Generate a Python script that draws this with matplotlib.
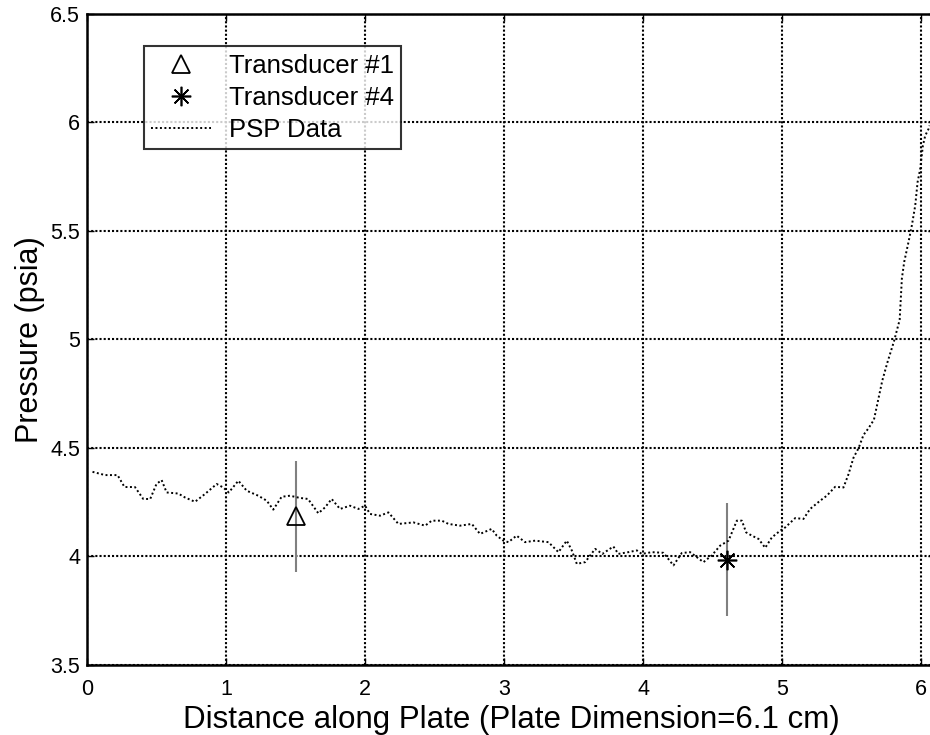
import matplotlib
matplotlib.use("Agg")
import matplotlib.pyplot as plt

plt.rcParams['font.family'] = ['Liberation Sans', 'DejaVu Sans']

# PSP data
psp_x = [0.04, 0.13, 0.22, 0.27, 0.345, 0.405, 0.455, 0.50, 0.537, 0.573,
         0.657, 0.705, 0.777, 0.849, 0.933, 0.98, 1.02, 1.089, 1.149, 1.232,
         1.293, 1.34, 1.40, 1.46, 1.53, 1.59, 1.664, 1.712, 1.76, 1.82,
         1.892, 1.952, 2.0, 2.036, 2.108, 2.168, 2.24, 2.348, 2.432, 2.48,
         2.552, 2.60, 2.683, 2.768, 2.827, 2.911, 2.947, 2.995, 3.031, 3.09,
         3.151, 3.223, 3.319, 3.391, 3.451, 3.487, 3.523, 3.583, 3.655, 3.707,
         3.786, 3.822, 3.894, 3.955, 3.99, 4.063, 4.146, 4.218, 4.278, 4.338,
         4.386, 4.434, 4.494, 4.554, 4.614, 4.674, 4.71, 4.741, 4.782, 4.83,
         4.878, 4.926, 4.986, 5.022, 5.094, 5.153, 5.201, 5.273, 5.321, 5.381,
         5.441, 5.477, 5.513, 5.55, 5.585, 5.62, 5.66, 5.69, 5.72, 5.755,
         5.804, 5.845, 5.861, 5.878, 5.909, 5.933, 5.957, 5.974, 5.993, 6.012,
         6.029, 6.053, 6.06]
psp_y = [4.39, 4.375, 4.375, 4.32, 4.32, 4.265, 4.265, 4.334, 4.352, 4.295,
         4.29, 4.272, 4.252, 4.288, 4.334, 4.318, 4.295, 4.349, 4.303, 4.28,
         4.257, 4.216, 4.275, 4.28, 4.27, 4.265, 4.199, 4.226, 4.265, 4.219,
         4.234, 4.219, 4.234, 4.196, 4.188, 4.203, 4.15, 4.157, 4.142, 4.165,
         4.165, 4.15, 4.142, 4.15, 4.104, 4.127, 4.096, 4.073, 4.066, 4.096,
         4.066, 4.073, 4.066, 4.02, 4.073, 4.028, 3.966, 3.974, 4.035, 4.012,
         4.046, 4.012, 4.02, 4.028, 4.012, 4.02, 4.017, 3.959, 4.016, 4.02,
         3.997, 3.974, 4.005, 4.05, 4.073, 4.165, 4.165, 4.111, 4.096, 4.081,
         4.04, 4.088, 4.119, 4.134, 4.177, 4.173, 4.219, 4.257, 4.28, 4.321,
         4.318, 4.379, 4.455, 4.50, 4.56, 4.59, 4.63, 4.72, 4.81, 4.89,
         4.991, 5.09, 5.281, 5.358, 5.45, 5.526, 5.617, 5.725, 5.786, 5.893,
         5.939, 5.97, 5.985]

# transducers: position, pressure, uncertainty
t1_x, t1_y, t1_err = 1.5, 4.185, 0.255
t4_x, t4_y, t4_err = 4.6, 3.985, 0.26

fig = plt.figure(figsize=(9.3, 7.35), dpi=100)
ax = fig.add_axes([0.0935, 0.0952, 0.912, 0.886])

# error bars (gray, no caps)
ax.errorbar([t1_x], [t1_y], yerr=[t1_err], fmt='none', ecolor='gray', elinewidth=1.5, capsize=0)
ax.errorbar([t4_x], [t4_y], yerr=[t4_err], fmt='none', ecolor='gray', elinewidth=1.5, capsize=0)

ax.plot([t1_x], [t1_y], linestyle='none', marker='^', markersize=13, mfc='none', mec='black',
        mew=1.3, label='Transducer #1')
ax.plot([t4_x], [t4_y], linestyle='none', marker=(8, 2, 0), markersize=14, mec='black',
        mew=1.2, label='Transducer #4')
ax.plot(psp_x, psp_y, color='black', linestyle=(0, (1, 1.3)), linewidth=1.4, label='PSP Data')

ax.set_xlim(0, 6.1)
ax.set_ylim(3.5, 6.5)
ax.set_xticks([0, 1, 2, 3, 4, 5, 6])
ax.set_yticks([3.5, 4, 4.5, 5, 5.5, 6, 6.5])
ax.set_yticklabels(['3.5', '4', '4.5', '5', '5.5', '6', '6.5'])
ax.grid(True, color='black', linestyle=(0, (1, 1)), linewidth=1.5)
ax.tick_params(direction='in', length=5, width=1, labelsize=15.5, top=True, right=True)
ax.tick_params(axis='x', pad=10)
ax.tick_params(axis='y', pad=5)
for s in ax.spines.values():
    s.set_linewidth(1.8)

ax.set_xlabel('Distance along Plate (Plate Dimension=6.1 cm)', fontsize=22.5, labelpad=4)
ax.set_ylabel('Pressure (psia)', fontsize=22, labelpad=4)

leg = ax.legend(loc='upper left', bbox_to_anchor=(0.067, 0.95), fontsize=18.5, frameon=True,
                fancybox=False, edgecolor='black', handlelength=2.3, borderpad=0.3,
                labelspacing=0.3, handletextpad=0.7, borderaxespad=0)
leg.get_frame().set_linewidth(1.5)

fig.savefig('out.png', dpi=100)
